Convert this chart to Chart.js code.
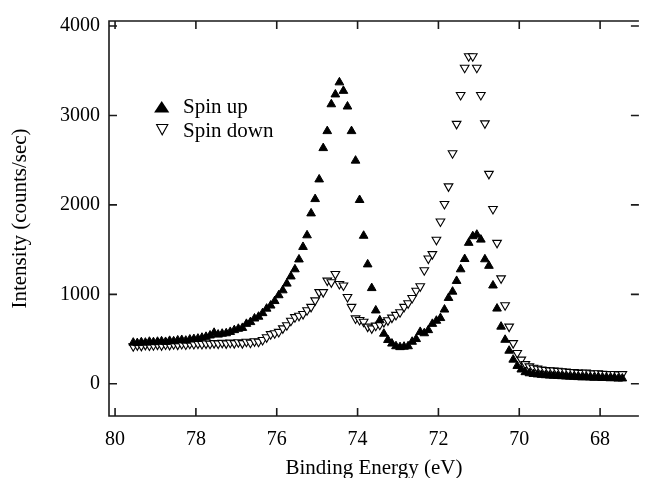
<!DOCTYPE html>
<html>
<head>
<meta charset="utf-8">
<script src="https://cdn.jsdelivr.net/npm/chart.js@4.4.0/dist/chart.umd.min.js"></script>
<style>
    html, body { margin: 0; padding: 0; background: #fff; }
</style>
</head>
<body>
<canvas id="myChart" width="645" height="478"></canvas>
<script>
// binding energy (eV), one point every 0.1 eV
const energies = [
    79.55, 79.45, 79.35, 79.25, 79.15, 79.05, 78.95, 78.85, 78.75, 78.65,
    78.55, 78.45, 78.35, 78.25, 78.15, 78.05, 77.95, 77.85, 77.75, 77.65,
    77.55, 77.45, 77.35, 77.25, 77.15, 77.05, 76.95, 76.85, 76.75, 76.65,
    76.55, 76.45, 76.35, 76.25, 76.15, 76.05, 75.95, 75.85, 75.75, 75.65,
    75.55, 75.45, 75.35, 75.25, 75.15, 75.05, 74.95, 74.85, 74.75, 74.65,
    74.55, 74.45, 74.35, 74.25, 74.15, 74.05, 73.95, 73.85, 73.75, 73.65,
    73.55, 73.45, 73.35, 73.25, 73.15, 73.05, 72.95, 72.85, 72.75, 72.65,
    72.55, 72.45, 72.35, 72.25, 72.15, 72.05, 71.95, 71.85, 71.75, 71.65,
    71.55, 71.45, 71.35, 71.25, 71.15, 71.05, 70.95, 70.85, 70.75, 70.65,
    70.55, 70.45, 70.35, 70.25, 70.15, 70.05, 69.95, 69.85, 69.75, 69.65,
    69.55, 69.45, 69.35, 69.25, 69.15, 69.05, 68.95, 68.85, 68.75, 68.65,
    68.55, 68.45, 68.35, 68.25, 68.15, 68.05, 67.95, 67.85, 67.75, 67.65,
    67.55, 67.45,
];

// intensity (counts/sec)
const spinUp = [
    460, 455, 465, 460, 470, 465, 470, 475, 468, 480,
    475, 485, 490, 482, 495, 500, 505, 515, 525, 540,
    570, 550, 560, 565, 580, 600, 615, 625, 670, 690,
    730, 750, 790, 840, 875, 925, 990, 1045, 1120, 1200,
    1280, 1390, 1530, 1660, 1905, 2065, 2285, 2635, 2825, 3125,
    3235, 3370, 3275, 3100, 2825, 2495, 2055, 1655, 1335, 1070,
    820, 710, 560, 490, 450, 420, 410, 415, 420, 470,
    500, 580, 565, 600, 670, 705, 735, 830, 960, 1030,
    1150, 1280, 1395, 1576, 1650, 1667, 1612, 1392, 1319, 1099,
    841, 639, 492, 370, 270, 200, 160, 130, 118, 110,
    105, 100, 96, 92, 90, 88, 85, 82, 80, 78,
    75, 72, 74, 70, 68, 70, 65, 66, 62, 64,
    58, 60,
];

const spinDown = [
    420, 430, 425, 435, 428, 432, 438, 430, 440, 435,
    442, 438, 445, 440, 448, 445, 450, 445, 450, 448,
    455, 450, 458, 452, 460, 455, 465, 455, 470, 460,
    475, 470, 490, 520, 555, 565, 580, 620, 655, 705,
    745, 760, 780, 823, 860, 933, 1025, 1025, 1154, 1135,
    1227, 1116, 1099, 970, 860, 731, 713, 694, 639, 620,
    650, 660, 690, 710, 740, 770, 800, 860, 900, 960,
    1040, 1090, 1270, 1400, 1450, 1610, 1815, 2010, 2207, 2578,
    2906, 3229, 3534, 3662, 3662, 3534, 3229, 2912, 2347, 1954,
    1576, 1179, 878, 639, 455, 345, 270, 220, 195, 180,
    170, 160, 155, 150, 148, 145, 140, 138, 132, 130,
    125, 122, 125, 118, 115, 118, 112, 110, 108, 110,
    105, 108,
];

const seriesNames = ["Spin up", "Spin down"];
const xTicks = [80, 78, 76, 74, 72, 70, 68];
const yTicks = [0, 1000, 2000, 3000, 4000];

const serif = "'Liberation Serif', 'Times New Roman', serif";
const ink = "#1a1a1a";

const toPoints = (ys) => energies.map((e, i) => ({ x: e, y: ys[i] }));

// box on three sides, inward ticks, and the legend inside the plot
const framePlugin = {
    id: "frame",
    afterDatasetsDraw(chart) {
        const { ctx, chartArea: a, scales } = chart;
        ctx.save();
        ctx.strokeStyle = ink;
        ctx.lineWidth = 1.6;
        ctx.beginPath();
        ctx.moveTo(a.right, a.top);
        ctx.lineTo(a.left, a.top);
        ctx.lineTo(a.left, a.bottom);
        ctx.lineTo(a.right, a.bottom);
        xTicks.forEach((v) => {
            const px = scales.x.getPixelForValue(v);
            ctx.moveTo(px, a.bottom);
            ctx.lineTo(px, a.bottom - 8);
            ctx.moveTo(px, a.top);
            ctx.lineTo(px, a.top + 8);
        });
        yTicks.forEach((v) => {
            const py = scales.y.getPixelForValue(v);
            ctx.moveTo(a.left, py);
            ctx.lineTo(a.left + 8, py);
            ctx.moveTo(a.right, py);
            ctx.lineTo(a.right - 8, py);
        });
        ctx.stroke();

        // legend
        ctx.fillStyle = "#000";
        ctx.beginPath();
        ctx.moveTo(161.7, 101);
        ctx.lineTo(169.3, 112.5);
        ctx.lineTo(154.1, 112.5);
        ctx.closePath();
        ctx.fill();

        ctx.lineWidth = 1.1;
        ctx.strokeStyle = "#000";
        ctx.beginPath();
        ctx.moveTo(156.6, 124.5);
        ctx.lineTo(167.8, 124.5);
        ctx.lineTo(162.2, 134.8);
        ctx.closePath();
        ctx.stroke();

        ctx.font = "21px " + serif;
        ctx.textBaseline = "alphabetic";
        ctx.textAlign = "left";
        ctx.fillText(seriesNames[0], 183, 113);
        ctx.fillText(seriesNames[1], 183, 136.5);
        ctx.restore();
    },
};

const ctx = document.getElementById("myChart").getContext("2d");
const myChart = new Chart(ctx, {
    type: "scatter",
    data: {
        datasets: [
            {
                label: seriesNames[0],
                data: toPoints(spinUp),
                pointStyle: "triangle",
                pointRadius: 5,
                backgroundColor: "#000",
                borderColor: "#000",
                borderWidth: 1,
            },
            {
                label: seriesNames[1],
                data: toPoints(spinDown),
                pointStyle: "triangle",
                rotation: 180,
                pointRadius: 5,
                backgroundColor: "#fff",
                borderColor: "#000",
                borderWidth: 1.1,
            },
        ],
    },
    options: {
        responsive: false,
        animation: false,
        events: [],
        layout: {
            padding: { top: 15, right: 0, bottom: 0, left: 0 },
        },
        plugins: {
            legend: { display: false },
            tooltip: { enabled: false },
        },
        scales: {
            x: {
                type: "linear",
                reverse: true,
                min: 67.04,
                max: 80.15,
                afterBuildTicks: (s) => {
                    s.ticks = xTicks.map((v) => ({ value: v }));
                },
                afterFit: (s) => {
                    s.height = 62;
                },
                grid: { display: false, drawTicks: false },
                border: { display: false },
                ticks: {
                    color: "#000",
                    font: { family: serif, size: 20 },
                    padding: 12,
                    maxRotation: 0,
                    autoSkip: false,
                    callback: (v) => String(v),
                },
                title: {
                    display: true,
                    text: "Binding Energy (eV)",
                    color: "#000",
                    font: { family: serif, size: 21, lineHeight: 1 },
                    padding: { top: 0, bottom: -1 },
                },
            },
            y: {
                min: -360,
                max: 4056,
                afterBuildTicks: (s) => {
                    s.ticks = yTicks.map((v) => ({ value: v }));
                },
                afterFit: (s) => {
                    s.width = 109;
                },
                grid: { display: false, drawTicks: false },
                border: { display: false },
                ticks: {
                    color: "#000",
                    font: { family: serif, size: 20 },
                    padding: 9,
                    callback: (v) => String(v),
                },
                title: {
                    display: true,
                    text: "Intensity (counts/sec)",
                    color: "#000",
                    font: { family: serif, size: 21, lineHeight: 1 },
                    padding: { top: 10, bottom: 0 },
                },
            },
        },
    },
    plugins: [framePlugin],
});
</script>
</body>
</html>
